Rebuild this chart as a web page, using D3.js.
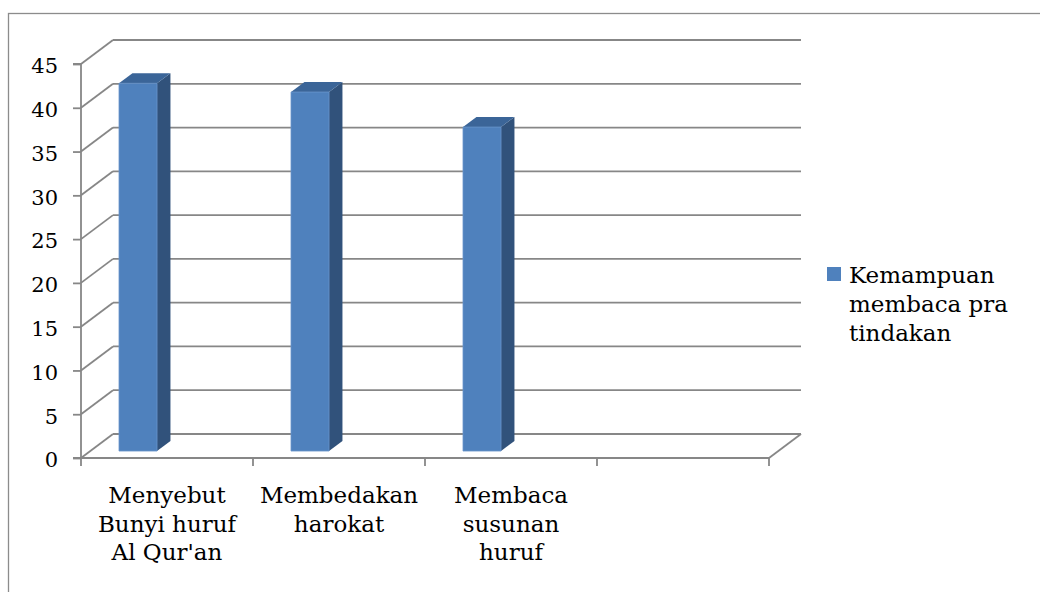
<!DOCTYPE html>
<html>
<head>
<meta charset="utf-8">
<script src="https://cdn.jsdelivr.net/npm/d3@7"></script>
<style>
  html, body { margin: 0; padding: 0; background: #ffffff; }
  svg { display: block; }
  text { font-family: "DejaVu Serif", "Liberation Serif", serif; fill: #000; }
</style>
</head>
<body>
<svg id="chart" width="1040" height="592"></svg>
<script>
// ---- data ----
const categories = ["Menyebut Bunyi huruf Al Qur'an", "Membedakan harokat", "Membaca susunan huruf", ""];
const categoryLines = [["Menyebut", "Bunyi huruf", "Al Qur'an"], ["Membedakan", "harokat"], ["Membaca", "susunan", "huruf"], []];
const seriesName = "Kemampuan membaca pra tindakan";
const legendLines = ["Kemampuan", "membaca pra", "tindakan"];
const values = [42, 41, 37];
const yTicks = [0, 5, 10, 15, 20, 25, 30, 35, 40, 45];

// ---- layout ----
const svg = d3.select("#chart");
const front = { left: 81, right: 769, bottom: 458, top: 64 };
const depth = { dx: 32, dy: -24 };
const barDepth = [0.29, 0.71];
const barOffset = 0.167, barWidth = 0.221;
const gridColor = "#878787";
const gridWidth = 1.8;

const x = d3.scaleBand().domain(categories).range([front.left, front.right]).padding(0);
const y = d3.scaleLinear().domain([0, 45]).range([front.bottom, front.top]);

function proj(xw, v, d) {
  return [xw + d * depth.dx, y(v) + d * depth.dy];
}

// outer border
svg.append("rect").attr("x", 8.5).attr("y", 13.5).attr("width", 1040).attr("height", 600)
  .attr("fill", "none").attr("stroke", "#8c8c8c").attr("stroke-width", 1.3);

const g = svg.append("g");

// back wall gridlines
g.selectAll("line.grid").data(yTicks).join("line")
  .attr("class", "grid")
  .attr("x1", d => proj(front.left, d, 1)[0]).attr("y1", d => proj(front.left, d, 1)[1])
  .attr("x2", d => proj(front.right, d, 1)[0]).attr("y2", d => proj(front.right, d, 1)[1])
  .attr("stroke", gridColor).attr("stroke-width", gridWidth);

// side wall diagonals
g.selectAll("line.side").data(yTicks).join("line")
  .attr("class", "side")
  .attr("x1", d => proj(front.left, d, 0)[0]).attr("y1", d => proj(front.left, d, 0)[1])
  .attr("x2", d => proj(front.left, d, 1)[0]).attr("y2", d => proj(front.left, d, 1)[1])
  .attr("stroke", gridColor).attr("stroke-width", gridWidth);

// floor right edge
g.append("line")
  .attr("x1", proj(front.right, 0, 0)[0]).attr("y1", proj(front.right, 0, 0)[1])
  .attr("x2", proj(front.right, 0, 1)[0]).attr("y2", proj(front.right, 0, 1)[1])
  .attr("stroke", gridColor).attr("stroke-width", gridWidth);

// bars
const barData = values.map((v, i) => ({ c: categories[i], v }));
const bars = g.selectAll("g.bar").data(barData).join("g").attr("class", "bar");
const bx0 = d => x(d.c) + barOffset * x.bandwidth();
const bx1 = d => x(d.c) + (barOffset + barWidth) * x.bandwidth();
const pts = arr => arr.map(p => p.join(",")).join(" ");

bars.append("polygon") // side
  .attr("points", d => pts([proj(bx1(d), 0, barDepth[0]), proj(bx1(d), d.v, barDepth[0]),
                            proj(bx1(d), d.v, barDepth[1]), proj(bx1(d), 0, barDepth[1])]))
  .attr("fill", "#31527b");
bars.append("polygon") // top
  .attr("points", d => pts([proj(bx0(d), d.v, barDepth[0]), proj(bx1(d), d.v, barDepth[0]),
                            proj(bx1(d), d.v, barDepth[1]), proj(bx0(d), d.v, barDepth[1])]))
  .attr("fill", "#3b6598");
bars.append("polygon") // front
  .attr("points", d => pts([proj(bx0(d), 0, barDepth[0]), proj(bx1(d), 0, barDepth[0]),
                            proj(bx1(d), d.v, barDepth[0]), proj(bx0(d), d.v, barDepth[0])]))
  .attr("fill", "#4f81bd").attr("stroke", "#6a96cc").attr("stroke-width", 0.8);

// front y axis
const yAxis = d3.axisLeft(y).tickValues(yTicks).tickSize(8).tickPadding(15).tickFormat(d3.format("d"));
const ya = svg.append("g").attr("transform", `translate(${front.left},0)`).call(yAxis);
ya.select(".domain").attr("stroke", gridColor).attr("stroke-width", gridWidth).attr("d", `M-8,${front.top}H0V${front.bottom}H-8`);
ya.selectAll(".tick line").attr("stroke", gridColor).attr("stroke-width", gridWidth);
ya.selectAll(".tick text").attr("font-family", "DejaVu Serif").attr("font-size", 21).attr("fill", "#000").attr("dy", "0.42em");

// front x axis
const xAxis = d3.axisBottom(x).tickSize(8).tickFormat("");
const xa = svg.append("g").attr("transform", `translate(0,${front.bottom})`).call(xAxis);
xa.select(".domain").attr("stroke", gridColor).attr("stroke-width", gridWidth).attr("d", `M${front.left},0H${front.right}`);
xa.selectAll(".tick").remove();
const bounds = categories.map(c => x(c)).concat([front.right]);
xa.selectAll("line.ctick").data(bounds).join("line").attr("class", "ctick")
  .attr("x1", d => d).attr("x2", d => d).attr("y1", 0).attr("y2", 8)
  .attr("stroke", gridColor).attr("stroke-width", gridWidth);

// category labels
const labels = svg.append("g").selectAll("text.cat").data(categories.map((c, i) => ({ c, lines: categoryLines[i] })))
  .join("text").attr("class", "cat")
  .attr("text-anchor", "middle").attr("font-size", 23)
  .attr("x", d => x(d.c) + x.bandwidth() / 2).attr("y", 503);
labels.selectAll("tspan").data(d => d.lines.map(l => ({ l, xc: x(d.c) + x.bandwidth() / 2 })))
  .join("tspan").attr("x", d => d.xc).attr("dy", (d, i) => i === 0 ? 0 : 28.5).text(d => d.l);

// legend
const lg = svg.append("g").attr("class", "legend");
lg.append("rect").attr("x", 827).attr("y", 267).attr("width", 14).attr("height", 14).attr("fill", "#4f81bd");
const lt = lg.append("text").attr("x", 849).attr("y", 283).attr("font-size", 23);
lt.selectAll("tspan").data(legendLines).join("tspan")
  .attr("x", 849).attr("dy", (d, i) => i === 0 ? 0 : 29).text(d => d);
</script>
</body>
</html>
